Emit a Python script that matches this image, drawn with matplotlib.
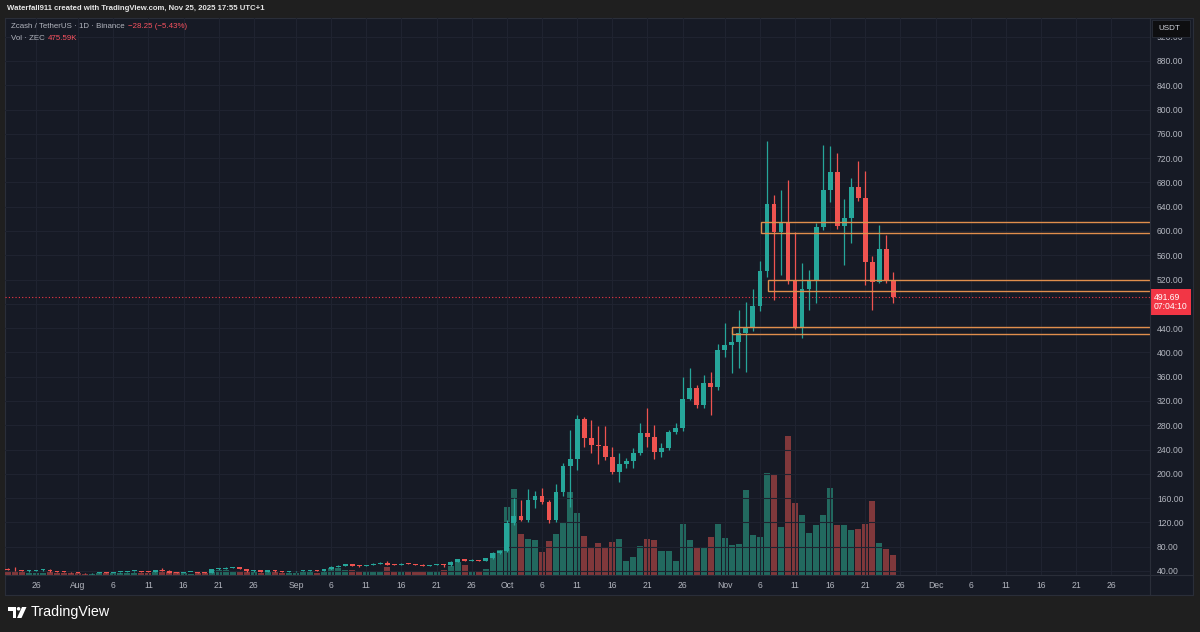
import numpy as np
import pandas as pd
import matplotlib
matplotlib.use('Agg')
import matplotlib.pyplot as plt
import matplotlib.dates as mdates
from matplotlib.patches import Rectangle, Circle, Polygon

plt.rcParams['font.family'] = ['Liberation Sans', 'DejaVu Sans']

# ZEC/USDT daily candles, Jul 22 - Nov 25 2025
dates = pd.date_range('2025-07-22', '2025-11-25', freq='D')
opens = [44.0, 42.0, 41.0, 39.8, 40.2, 41.3, 41.8, 39.5, 39.0, 38.3,
         37.6, 36.8, 36.0, 36.9, 37.6, 36.7, 37.9, 38.4, 39.6, 40.0, 38.6, 38.0, 42.0, 40.5, 37.5, 37.0,
         38.0, 38.5, 37.2, 36.8, 43.0, 44.0, 45.5, 46.0, 43.5, 39.5, 41.5, 39.0, 41.0, 39.5, 38.5,
         39.3, 40.3, 40.8, 41.8, 40.2, 42.6, 47.0, 48.6, 51.0, 49.0, 48.0, 49.8, 51.6, 53.0, 50.5,
         50.0, 51.8, 51.2, 50.6, 49.0, 49.9, 51.4, 49.5, 55.3, 59.0, 56.5, 58.0, 57.0, 61.0, 69.5,
         72.5, 119, 130.5, 124, 157, 164, 154, 124, 170, 213, 224, 290, 259, 247.5, 246, 227,
         203.5, 216, 221, 235, 267, 261, 236.5, 242, 269, 275, 324, 341, 313, 350, 343.5,
         404, 412, 417, 432, 440, 477, 534, 645, 599, 613, 520, 441, 504, 518, 607, 668,
         697, 608, 622, 673, 654, 549, 516, 571, 519.94]
highs = [45.2, 46.0, 42.2, 41.0, 41.9, 42.5, 43.6, 40.4, 39.8, 39.1,
         38.2, 37.4, 37.3, 38.0, 38.1, 38.3, 38.9, 40.1, 40.6, 40.5, 39.4, 42.4, 44.6, 41.3, 38.4, 38.3,
         38.9, 39.0, 37.9, 43.6, 44.8, 47.2, 46.8, 46.6, 44.1, 42.0, 42.2, 41.6, 41.5, 40.0, 39.7,
         40.8, 41.3, 42.3, 42.2, 43.2, 47.8, 49.5, 51.8, 52.2, 49.9, 50.6, 52.4, 54.0, 55.8, 51.6,
         52.6, 52.6, 52.1, 51.1, 50.5, 52.0, 52.0, 56.0, 60.2, 60.5, 59.0, 58.9, 62.0, 71.0, 75.0,
         124, 160, 157, 175, 172, 176, 157, 184, 218, 272, 297, 294, 289, 278, 278, 245,
         234, 226, 242, 283, 308, 280, 250, 272, 283, 359, 374, 346, 363, 368, 414,
         449, 437, 470, 483, 505, 550, 748, 659, 668, 684, 599, 547, 536, 613, 741, 740,
         728, 653, 687, 716, 698, 558, 610, 593, 533]
lows = [41.3, 40.6, 39.3, 38.9, 39.8, 40.6, 39.0, 38.6, 37.9, 37.2,
        36.3, 35.6, 35.7, 36.4, 36.2, 36.4, 37.5, 38.1, 39.1, 38.2, 37.6, 37.7, 40.1, 37.0, 36.6, 36.8,
        37.6, 36.9, 36.3, 36.5, 42.1, 43.4, 44.7, 43.0, 39.1, 39.0, 38.6, 38.7, 39.1, 38.1, 38.2,
        38.9, 39.7, 40.4, 39.8, 39.9, 42.2, 46.3, 48.0, 48.4, 47.3, 47.5, 49.2, 51.0, 49.9, 49.4,
        49.6, 50.8, 50.0, 48.5, 48.6, 49.4, 47.0, 49.0, 54.6, 55.8, 55.9, 56.3, 56.5, 60.3, 68.0,
        71, 115, 122, 121, 144, 151, 119, 121, 163, 146, 206, 245, 234, 217, 222, 200,
        187, 209, 209, 231, 245, 225, 228, 239, 266, 271, 321, 308, 308, 297, 338,
        393, 366, 374, 368, 436, 469, 524, 487, 527, 512, 438, 423, 470, 482, 601, 648,
        604, 544, 580, 650, 511, 470, 514, 514, 482]
closes = [42.0, 41.0, 39.8, 40.2, 41.3, 41.8, 39.5, 39.0, 38.3, 37.6,
          36.8, 36.0, 36.9, 37.6, 36.7, 37.9, 38.4, 39.6, 40.0, 38.6, 38.0, 42.0, 40.5, 37.5, 37.0, 38.0,
          38.5, 37.2, 36.8, 43.0, 44.0, 45.5, 46.0, 43.5, 39.5, 41.5, 39.0, 41.0, 39.5, 38.5, 39.3,
          40.3, 40.8, 41.8, 40.2, 42.6, 47.0, 48.6, 51.0, 49.0, 48.0, 49.8, 51.6, 53.0, 50.5, 50.0,
          51.8, 51.2, 50.6, 49.0, 49.9, 51.4, 49.5, 55.3, 59.0, 56.5, 58.0, 57.0, 61.0, 69.5, 72.5,
          119, 130.5, 124, 157, 164, 154, 124, 170, 213, 224, 290, 259, 247.5, 246, 227, 203.5,
          216, 221, 235, 267, 261, 236.5, 242, 269, 275, 324, 341, 313, 350, 343.5, 404,
          412, 417, 432, 440, 477, 534, 645, 599, 613, 520, 441, 504, 518, 607, 668, 697,
          608, 622, 673, 654, 549, 516, 571, 519.94, 491.69]
# volume in thousands of ZEC
volumes = [70, 80, 60, 50, 55, 55, 75, 55, 50, 45,
           45, 35, 35, 40, 45, 40, 45, 50, 40, 45, 50, 70, 110, 95, 60, 40, 35, 45, 50, 130, 120,
           130, 95, 90, 80, 70, 55, 60, 60, 45, 45,
           55, 60, 65, 55, 100, 170, 170, 120, 110, 80, 90, 90, 90, 180, 90, 70, 85, 90, 80, 75,
           75, 110, 220, 300, 240, 100, 60, 150, 530, 600,
           1625, 2054, 983, 864, 840, 555, 816, 983, 1245, 1983, 1483, 935, 674, 769, 674, 793,
           864, 340, 436, 697, 864, 840, 578, 578, 340, 1221, 840, 650, 650, 912, 1221,
           888, 721, 745, 2030, 959, 912, 2435, 2387, 1150, 3315, 1721, 1435, 1007, 1197, 1435,
           2078, 1197, 1197, 1078, 1102, 1221, 1768, 769, 626, 475.59]

tick_dates = ['2025-07-26', '2025-08-01', '2025-08-06', '2025-08-11', '2025-08-16', '2025-08-21',
              '2025-08-26', '2025-09-01', '2025-09-06', '2025-09-11', '2025-09-16', '2025-09-21',
              '2025-09-26', '2025-10-01', '2025-10-06', '2025-10-11', '2025-10-16', '2025-10-21',
              '2025-10-26', '2025-11-01', '2025-11-06', '2025-11-11', '2025-11-16', '2025-11-21',
              '2025-11-26', '2025-12-01', '2025-12-06', '2025-12-11', '2025-12-16', '2025-12-21',
              '2025-12-26']
tick_labels = ['26', 'Aug', '6', '11', '16', '21', '26', 'Sep', '6', '11', '16', '21', '26',
               'Oct', '6', '11', '16', '21', '26', 'Nov', '6', '11', '16', '21', '26',
               'Dec', '6', '11', '16', '21', '26']
price_ticks = list(range(40, 921, 40))

# orange zones (start date, top, bottom)
zone_starts = ['2025-11-06 05:00', '2025-11-07 02:00', '2025-11-02 02:00']
zone_tops = [614.5, 519.5, 441.5]
zone_bottoms = [596.5, 501.0, 430.5]

last_price = 491.69
countdown = '07:04:10'

BG = '#161a25'
OUTER = '#1f1f1f'
GRID = '#1f2330'
TXT = '#b2b5be'
UP = '#26a69a'
DOWN = '#ef5350'

W, H = 1200, 632
fig = plt.figure(figsize=(W / 100, H / 100), dpi=100, facecolor=OUTER)


def rect(l, t, r, b):
    return [l / W, 1 - b / H, (r - l) / W, (b - t) / H]


# chart panel background
ax_bg = fig.add_axes(rect(5, 18, 1193, 595), zorder=-1)
ax_bg.set_facecolor(BG)
ax_bg.set_xticks([])
ax_bg.set_yticks([])
for s in ax_bg.spines.values():
    s.set_color('#2a2e39')
    s.set_linewidth(0.8)

ax_vol = fig.add_axes(rect(5, 18, 1150, 575), zorder=0)
ax = fig.add_axes(rect(5, 18, 1150, 575), zorder=1, sharex=ax_vol)
ax_vol.patch.set_alpha(0)
ax.patch.set_alpha(0)

x = mdates.date2num(dates)
o = np.array(opens)
c = np.array(closes)
up = c >= o
colors = np.where(up, UP, DOWN)
vol_colors = np.where(up, '#22695f', '#80383b')

ax_vol.bar(x, volumes, width=0.86, color=vol_colors, linewidth=0)
ax_vol.set_ylim(0, 557 * 23.8)
ax_vol.axis('off')

ax.vlines(x, lows, highs, colors=colors, linewidth=0.9, zorder=3)
ax.bar(x, np.maximum(np.abs(c - o), 1.3), bottom=np.minimum(o, c), width=0.68,
       color=colors, linewidth=0, zorder=4)

x0 = mdates.date2num(pd.Timestamp('2025-07-22')) - 0.4
x1 = mdates.date2num(pd.Timestamp('2025-10-01')) + 91.5
ax.set_xlim(x0, x1)
ax.set_ylim(33.4, 950.8)

for zs, zt, zb in zip(zone_starts, zone_tops, zone_bottoms):
    xs = mdates.date2num(pd.Timestamp(zs))
    ax.add_patch(Rectangle((xs, zb), x1 - xs + 5, zt - zb, fill=False,
                           edgecolor='#e08e4c', linewidth=1.0, zorder=5))

ax.axhline(last_price, color='#f23645', linestyle=(0, (1, 2)), linewidth=0.8, zorder=2)

ax.set_xticks(mdates.date2num(pd.to_datetime(tick_dates)))
ax.set_xticklabels(tick_labels)
ax.yaxis.tick_right()
ax.set_yticks(price_ticks)
# the 480 label sits under the last-price tag
ax.set_yticklabels(['' if abs(v - last_price) < 15 else f'{v:.2f}' for v in price_ticks])
ax.tick_params(axis='x', length=0, pad=4, labelsize=6.2, labelcolor=TXT)
ax.tick_params(axis='y', length=0, pad=5, labelsize=6.2, labelcolor=TXT)
ax.grid(True, color=GRID, linewidth=0.8, zorder=0)
ax.set_axisbelow(True)
for s in ax.spines.values():
    s.set_visible(False)

ax.annotate(f'{last_price:.2f}\n{countdown}', xy=(1, last_price),
            xycoords=('axes fraction', 'data'), xytext=(2.6, -3.8), textcoords='offset points',
            ha='left', va='center', fontsize=6.2, color='white', linespacing=1.1,
            annotation_clip=False, zorder=10,
            bbox=dict(boxstyle='square,pad=0.4', fc='#f23645', ec='none'))

# overlay in pixel coords for header, logo, separators
ov = fig.add_axes([0, 0, 1, 1], zorder=5)
ov.set_xlim(0, W)
ov.set_ylim(H, 0)
ov.axis('off')
ov.patch.set_alpha(0)

ov.plot([1150, 1150], [18, 595], color='#2a2e39', linewidth=0.8)
ov.plot([5, 1193], [575, 575], color='#2a2e39', linewidth=0.8)

ov.text(7, 9, 'Waterfall911 created with TradingView.com, Nov 25, 2025 17:55 UTC+1',
        color='#e6e6e6', fontsize=5.6, fontweight='bold', va='center', ha='left')
ov.text(11, 27, 'Zcash / TetherUS · 1D · Binance', color=TXT, fontsize=5.7, va='center')
ov.text(128, 27, '\u221228.25 (\u22125.43%)', color='#f7525f', fontsize=5.7, va='center')
ov.text(11, 39, 'Vol · ZEC', color=TXT, fontsize=5.7, va='center')
ov.text(48, 39, '475.59K', color='#f7525f', fontsize=5.7, va='center')

ov.add_patch(Rectangle((1152, 20), 38, 17, facecolor='#0e0e10', edgecolor='#2a2e39',
                       linewidth=0.6))
ov.text(1158, 28.5, 'USDT', color='#d1d4dc', fontsize=5.8, va='center')

# TradingView logo
ov.add_patch(Polygon([(8, 607), (16, 607), (16, 618), (12.5, 618), (12.5, 610.5), (8, 610.5)],
                     closed=True, facecolor='white', edgecolor='none'))
ov.add_patch(Circle((18.6, 608.8), 1.8, facecolor='white', edgecolor='none'))
ov.add_patch(Polygon([(22, 607), (26.5, 607), (21.5, 618), (17, 618)], closed=True,
                     facecolor='white', edgecolor='none'))
ov.text(31, 612, 'TradingView', color='white', fontsize=10.3, va='center', ha='left')

fig.savefig('out.png', dpi=100, facecolor=OUTER)
